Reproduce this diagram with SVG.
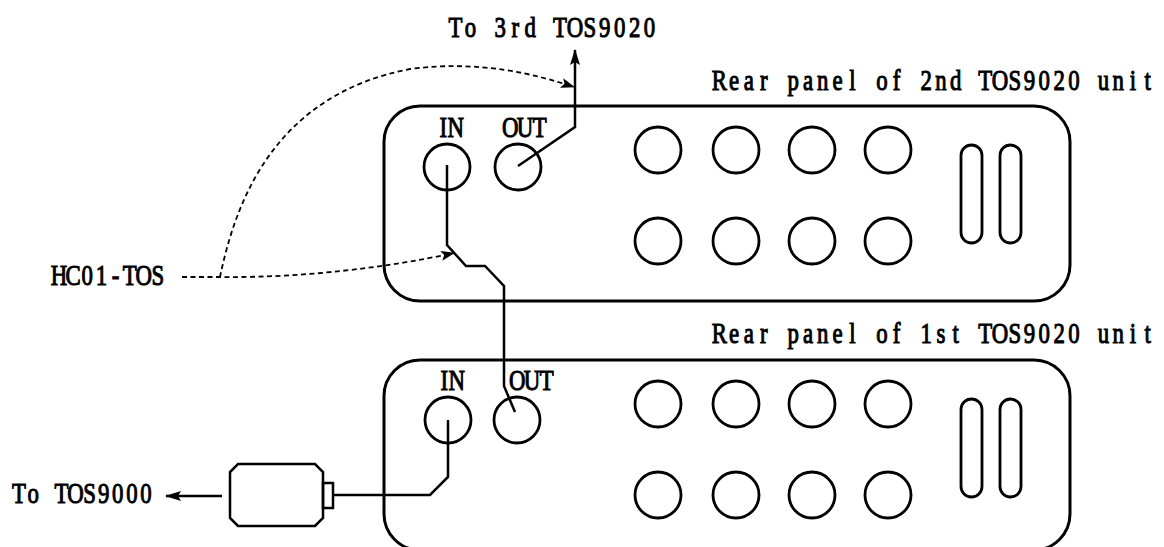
<svg xmlns="http://www.w3.org/2000/svg" width="1164" height="547" viewBox="0 0 1164 547">
<style>
.panel{fill:none;stroke:#000;stroke-width:3}
.jack{fill:none;stroke:#000;stroke-width:2.8}
.slot{fill:none;stroke:#000;stroke-width:2.8}
.cable{fill:none;stroke:#000;stroke-width:2.5;stroke-linejoin:miter}
.dash{fill:none;stroke:#000;stroke-width:1.8;stroke-dasharray:5 3.5}
.t{font-family:"Liberation Serif","Times New Roman",serif;font-size:30px;fill:#000;stroke:#000;stroke-width:1.1;text-anchor:middle}
</style>
<defs>
<marker id="ahs" viewBox="0 0 16 10" refX="15" refY="5" markerWidth="16" markerHeight="10" markerUnits="userSpaceOnUse" orient="auto">
<path d="M0,0 L16,5 L0,10 L3,5 z" fill="#000"/>
</marker>
<marker id="ahd" viewBox="0 0 14 10" refX="13" refY="5" markerWidth="14" markerHeight="10" markerUnits="userSpaceOnUse" orient="auto">
<path d="M0,0 L14,5 L0,10 L3,5 z" fill="#000"/>
</marker>
</defs>

<g id="panel2">
<rect class="panel" x="384" y="106" width="686" height="195" rx="36"/>
<text class="t" transform="translate(437,137) scale(0.76,1)" x="8.22 24.67">IN</text>
<text class="t" transform="translate(503,137) scale(0.76,1)" x="9.65 28.95 48.25">OUT</text>
<circle class="jack" cx="447" cy="167" r="23"/>
<circle class="jack" cx="518" cy="167" r="23"/>
<circle class="jack" cx="658" cy="150" r="23"/>
<circle class="jack" cx="736" cy="150" r="23"/>
<circle class="jack" cx="812" cy="150" r="23"/>
<circle class="jack" cx="888" cy="150" r="23"/>
<circle class="jack" cx="658" cy="241" r="23"/>
<circle class="jack" cx="736" cy="241" r="23"/>
<circle class="jack" cx="812" cy="241" r="23"/>
<circle class="jack" cx="888" cy="241" r="23"/>
<rect class="slot" x="961" y="145" width="21" height="98" rx="10.5"/>
<rect class="slot" x="1000" y="145" width="21" height="98" rx="10.5"/>
</g>

<g id="panel1">
<rect class="panel" x="384" y="360" width="686" height="190" rx="36"/>
<text class="t" transform="translate(438,390) scale(0.76,1)" x="8.22 24.67">IN</text>
<text class="t" transform="translate(510,390) scale(0.76,1)" x="9.65 28.95 48.25">OUT</text>
<circle class="jack" cx="448" cy="420" r="23"/>
<circle class="jack" cx="517" cy="420" r="23"/>
<circle class="jack" cx="658" cy="404" r="23"/>
<circle class="jack" cx="736" cy="404" r="23"/>
<circle class="jack" cx="812" cy="404" r="23"/>
<circle class="jack" cx="888" cy="404" r="23"/>
<circle class="jack" cx="658" cy="495" r="23"/>
<circle class="jack" cx="736" cy="495" r="23"/>
<circle class="jack" cx="812" cy="495" r="23"/>
<circle class="jack" cx="888" cy="495" r="23"/>
<rect class="slot" x="961" y="399" width="21" height="98" rx="10.5"/>
<rect class="slot" x="1000" y="399" width="21" height="98" rx="10.5"/>
</g>

<g id="adapter">
<path class="cable" d="M238,464 L315,464 L323,472 L323,518 L315,526 L238,526 L230,518 L230,472 Z"/>
<rect class="cable" x="323" y="483" width="10" height="25"/>
</g>

<g id="labels">
<text class="t" transform="translate(448,37) scale(0.76,1)" x="9.82 29.47 49.11 68.76 88.4 108.05 127.69 147.34 166.98 186.63 206.27 225.92 245.56 265.21">To 3rd TOS9020</text>
<text class="t" transform="translate(712,90) scale(0.76,1)" x="9.72 29.15 48.59 68.02 87.45 106.89 126.32 145.76 165.19 184.63 204.06 223.49 242.93 262.36 281.8 301.23 320.66 340.1 359.53 378.97 398.4 417.83 437.27 456.7 476.14 495.57 515.01 534.44 553.87 573.31">Rear panel of 2nd TOS9020 unit</text>
<text class="t" transform="translate(712,343) scale(0.76,1)" x="9.72 29.15 48.59 68.02 87.45 106.89 126.32 145.76 165.19 184.63 204.06 223.49 242.93 262.36 281.8 301.23 320.66 340.1 359.53 378.97 398.4 417.83 437.27 456.7 476.14 495.57 515.01 534.44 553.87 573.31">Rear panel of 1st TOS9020 unit</text>
<text class="t" transform="translate(52,285) scale(0.76,1)" x="9.29 27.88 46.47 65.05 83.64 102.22 120.81 139.39">HC01-TOS</text>
<text class="t" transform="translate(12,503) scale(0.76,1)" x="9.28 27.83 46.38 64.94 83.49 102.04 120.6 139.15 157.7 176.26">To TOS9000</text>
</g>

<g id="connectors">
<path class="cable" d="M518,166 L575,127 L575,50" marker-end="url(#ahs)"/>
<path class="cable" d="M447,165 L447,245 L466,266 L485,266 L504,286 L504,386 L515,412"/>
<path class="cable" d="M448,420 L448,477 L430,495 L333,495"/>
<path class="cable" d="M222,496 L166,496" marker-end="url(#ahs)"/>
<path class="dash" d="M182,277 L220,277 C300,278 385,268 454,253" marker-end="url(#ahd)"/>
<path class="dash" d="M220,277 C236,200 275,95 410,69 C480,60 535,74 574,87" marker-end="url(#ahd)"/>
</g>
</svg>
